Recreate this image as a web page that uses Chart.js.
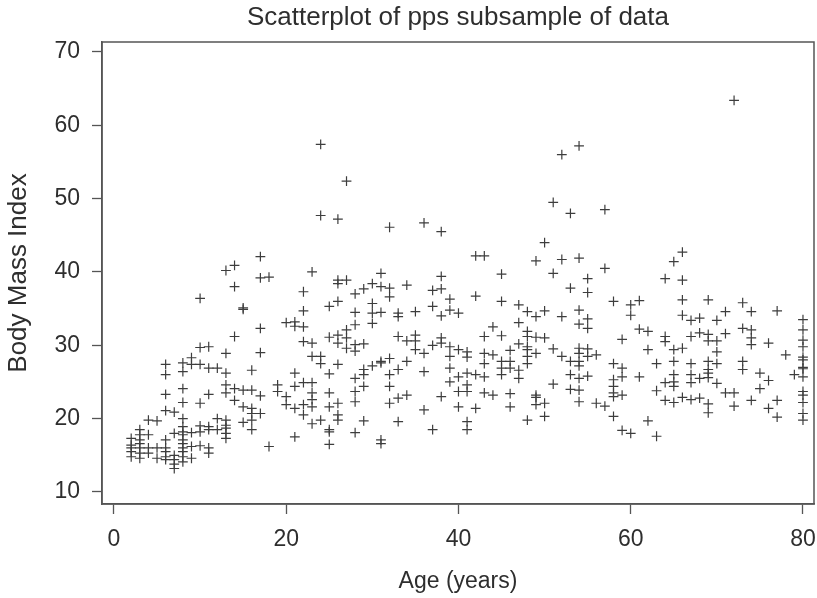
<!DOCTYPE html>
<html>
<head>
<meta charset="utf-8">
<script src="https://cdn.jsdelivr.net/npm/chart.js@4.4.1/dist/chart.umd.min.js"></script>
<style>
  html, body { margin: 0; padding: 0; background: #fff; }
  #wrap { width: 817px; height: 598px; }
</style>
</head>
<body>
<div id="wrap"><canvas id="bmiChart" width="817" height="598"></canvas></div>
<script>
// -----------------------------
// Data
// -----------------------------
const xTicks = [0, 20, 40, 60, 80];
const yTicks = [10, 20, 30, 40, 50, 60, 70];

// children, ages 2-19
const ageChild = [
  2,2,2,2,2,
  3,3,3,3,3,3,3,
  4,4,4,4,
  5,5,5,
  6,6,6,6,6,6,6,6,6,
  7,7,7,7,7,7,
  8,8,8,8,8,8,8,8,8,8,8,8,8,8,
  9,9,9,9,9,
  10,10,10,10,10,10,10,
  11,11,11,11,11,11,11,
  12,12,12,
  13,13,13,13,13,13,13,13,13,13,
  14,14,14,14,14,
  15,15,15,15,15,
  16,16,16,16,16,16,
  17,17,17,17,17,17,
  18,18,
  19,19
];
const bmiChild = [
  17.3,16.4,16.0,15.5,14.8,
  18.5,17.8,17.1,16.6,16.0,15.3,14.6,
  19.8,17.8,16.0,15.3,
  19.7,16.0,14.6,
  27.4,26.0,23.3,21.1,17.1,16.0,15.5,14.8,14.4,
  20.9,18.0,15.0,14.4,13.8,13.2,
  27.6,26.4,24.1,22.2,20.0,18.9,18.2,17.8,17.1,16.6,16.0,15.5,14.8,14.1,
  28.3,27.4,18.1,16.2,14.6,
  36.4,29.7,27.4,22.1,19.0,18.2,16.3,
  29.8,26.9,23.3,18.9,18.5,16.0,15.3,
  26.9,20.0,18.5,
  40.2,28.9,26.2,24.6,23.5,19.8,19.1,18.7,18.0,17.3,
  40.9,38.0,31.2,24.1,22.5,
  35.1,34.9,23.9,21.6,19.5,
  26.6,23.9,21.4,20.7,19.8,18.5,
  42.1,39.2,32.3,29.0,23.1,20.7,
  39.3,16.2,
  24.6,23.7
];

// adults, ages 20-49
const ageAdult = [
  20,20,20,
  21,21,21,21,21,21,
  22,22,22,22,22,22,22,
  23,23,23,23,23,23,23,23,
  24,24,24,24,24,
  25,25,25,25,25,25,25,25,
  26,26,26,26,26,26,26,26,26,26,
  27,27,27,27,27,
  28,28,28,28,28,28,28,28,28,
  29,29,29,29,29,29,
  30,30,30,30,30,
  31,31,31,31,31,31,31,
  32,32,32,32,32,32,32,
  33,33,33,33,33,33,
  34,34,34,34,
  35,35,35,35,
  36,36,36,36,
  37,37,37,37,
  38,38,38,38,38,38,38,
  39,39,39,39,39,39,
  40,40,40,40,40,
  41,41,41,41,41,41,41,
  42,42,42,42,
  43,43,43,43,43,43,
  44,44,44,
  45,45,45,45,45,45,
  46,46,46,46,46,
  47,47,47,47,47,
  48,48,48,48,48,48,48,48,
  49,49,49,49,49,49,49
];
const bmiAdult = [
  33.1,23.0,21.9,
  33.2,32.6,26.2,24.4,21.4,17.5,
  37.3,34.7,32.5,30.5,24.9,21.9,20.5,
  40.0,30.3,28.5,24.9,23.5,22.6,21.6,19.3,
  57.4,47.7,28.5,27.5,19.8,
  35.3,31.1,26.1,23.5,21.6,18.5,18.2,16.5,
  47.2,38.9,38.4,36.0,31.4,30.3,27.4,22.1,20.5,19.8,
  52.4,38.9,32.1,31.0,29.6,
  37.0,34.5,32.8,30.1,29.2,25.5,23.7,22.3,18.1,
  37.7,30.2,26.7,26.0,24.4,19.7,
  38.4,35.7,34.4,33.0,27.2,
  39.8,38.0,34.5,27.8,27.6,17.1,16.6,
  46.1,37.8,36.6,28.2,26.0,24.4,22.1,
  34.4,33.9,31.2,26.7,22.8,19.6,
  38.2,30.6,27.8,23.2,
  34.6,31.4,30.6,29.4,
  46.7,28.9,26.4,21.2,
  37.5,35.3,30.0,18.5,
  45.5,39.4,37.7,34.0,31.0,30.3,23.0,
  36.3,34.8,29.8,28.5,26.9,25.0,
  34.4,29.4,25.7,23.7,21.6,
  29.1,28.4,26.2,24.6,23.7,19.6,18.5,
  42.2,36.7,26.0,21.4,
  42.2,31.2,28.9,27.5,25.7,23.5,
  32.5,28.7,23.2,
  39.7,36.0,31.3,27.8,26.9,26.0,
  29.3,27.8,26.9,23.4,21.6,
  35.5,33.1,30.2,26.6,25.5,
  34.6,31.9,31.2,29.8,29.4,28.5,27.5,19.8,
  41.5,33.9,31.1,28.9,23.2,22.9,21.9
];

// older adults, ages 50-80
const ageOlder = [
  50,50,50,50,50,
  51,51,51,51,
  52,52,52,52,
  53,53,53,53,53,
  54,54,54,54,54,54,54,54,54,54,54,
  55,55,55,55,55,55,55,
  56,56,
  57,57,57,
  58,58,58,58,58,58,58,
  59,59,59,59,59,
  60,60,60,
  61,61,61,
  62,62,62,
  63,63,63,
  64,64,64,64,64,
  65,65,65,65,65,65,65,
  66,66,66,66,66,66,
  67,67,67,67,67,67,
  68,68,68,68,
  69,69,69,69,69,69,69,69,69,
  70,70,70,70,70,
  71,71,71,
  72,72,72,
  73,73,73,73,
  74,74,74,74,74,
  75,75,
  76,76,76,
  77,77,77,
  78,
  79,
  80,80,80,80,80,80,80,80,80,80,80,80,80,80
];
const bmiOlder = [
  44.0,34.7,31.0,22.1,20.3,
  49.5,39.8,29.5,24.7,
  56.0,41.7,33.9,28.5,
  48.0,37.8,27.8,26.0,24.0,
  57.2,41.9,34.8,32.9,29.6,28.9,27.8,27.2,25.5,23.9,22.3,
  39.1,37.2,33.6,32.3,29.5,28.5,25.8,
  28.7,22.1,
  48.5,40.5,21.7,
  36.0,27.5,25.3,24.4,23.5,23.0,20.3,
  30.8,26.9,25.7,23.2,18.4,
  35.5,34.1,18.0,
  36.1,32.2,25.7,
  31.9,29.4,19.7,
  27.5,23.8,17.6,
  39.1,31.2,30.5,24.9,22.5,
  41.4,29.4,27.8,26.0,25.0,24.4,22.2,
  42.7,38.9,36.2,34.1,29.6,22.9,
  33.4,31.2,27.5,26.0,24.9,22.6,
  33.7,31.7,25.5,22.8,
  36.2,31.5,30.6,27.8,26.7,26.2,25.6,22.0,20.8,
  33.4,30.6,29.1,27.5,24.8,
  34.6,31.6,23.5,
  63.4,23.5,21.7,
  35.8,32.3,27.8,26.7,
  34.6,32.1,31.0,30.1,22.5,
  26.2,24.1,
  30.3,25.2,21.4,
  34.7,22.5,20.2,
  28.7,
  26.0,
  33.5,32.1,30.7,29.8,28.4,28.0,27.0,26.8,25.7,23.7,23.2,22.2,20.7,19.8
];

// -----------------------------
// Build points
// -----------------------------
const ages = ageChild.concat(ageAdult, ageOlder);
const bmis = bmiChild.concat(bmiAdult, bmiOlder);
if (ages.length !== bmis.length) console.error("length mismatch", ages.length, bmis.length);
const points = ages.map((a, i) => ({ x: a, y: bmis[i] }));

// -----------------------------
// Styles
// -----------------------------
const FONT = "'Liberation Sans', Arial, Helvetica, sans-serif";
const TEXT = "#2e2e2e";
const LINE = "#555";

// box round the plot area
const framePlugin = {
    id: "frame",
    afterDraw(chart) {
        const { ctx, chartArea: a } = chart;
        ctx.save();
        ctx.strokeStyle = LINE;
        ctx.lineWidth = 1.5;
        ctx.strokeRect(a.left, a.top, a.right - a.left, a.bottom - a.top);
        ctx.restore();
    }
};

const ctx = document.getElementById("bmiChart").getContext("2d");
new Chart(ctx, {
    type: "scatter",
    data: {
        datasets: [{
            data: points,
            pointStyle: "cross",
            pointRadius: 4.9,
            pointHoverRadius: 4.9,
            borderColor: "#3d3d3d",
            backgroundColor: "#3d3d3d",
            borderWidth: 1.2
        }]
    },
    options: {
        responsive: false,
        animation: false,
        devicePixelRatio: 1,
        layout: { autoPadding: false, padding: { left: 0, right: 3, top: 0, bottom: 0 } },
        plugins: {
            legend: { display: false },
            tooltip: { enabled: false },
            title: {
                display: true,
                fullSize: false,
                text: "Scatterplot of pps subsample of data",
                color: TEXT,
                font: { family: FONT, size: 26, weight: "normal" },
                padding: { top: 2.4, bottom: 8.4 }
            }
        },
        scales: {
            x: {
                type: "linear",
                min: -1.39,
                max: 81.28,
                afterBuildTicks: s => { s.ticks = xTicks.map(v => ({ value: v })); },
                afterFit: s => { s.height = 94; s.paddingLeft = 0; s.paddingRight = 0; },
                grid: { drawOnChartArea: false, drawTicks: true, tickLength: 10, tickColor: LINE, tickWidth: 1.3 },
                border: { display: true, color: LINE, width: 1.5 },
                ticks: { color: TEXT, font: { family: FONT, size: 23 }, padding: 12, maxRotation: 0 },
                title: {
                    display: true,
                    text: "Age (years)",
                    color: TEXT,
                    font: { family: FONT, size: 23 },
                    padding: { top: 0, bottom: 3 }
                }
            },
            y: {
                type: "linear",
                min: 8.36,
                max: 71.36,
                afterBuildTicks: s => { s.ticks = yTicks.map(v => ({ value: v })); },
                afterFit: s => { s.width = 102; s.paddingTop = 0; s.paddingBottom = 0; },
                grid: { drawOnChartArea: false, drawTicks: true, tickLength: 10, tickColor: LINE, tickWidth: 1.3 },
                border: { display: true, color: LINE, width: 1.5 },
                ticks: { color: TEXT, font: { family: FONT, size: 23 }, padding: 12 },
                title: {
                    display: true,
                    text: "Body Mass Index",
                    color: TEXT,
                    font: { family: FONT, size: 26 },
                    padding: { top: 3, bottom: 0 }
                }
            }
        }
    },
    plugins: [framePlugin]
});
</script>
</body>
</html>
